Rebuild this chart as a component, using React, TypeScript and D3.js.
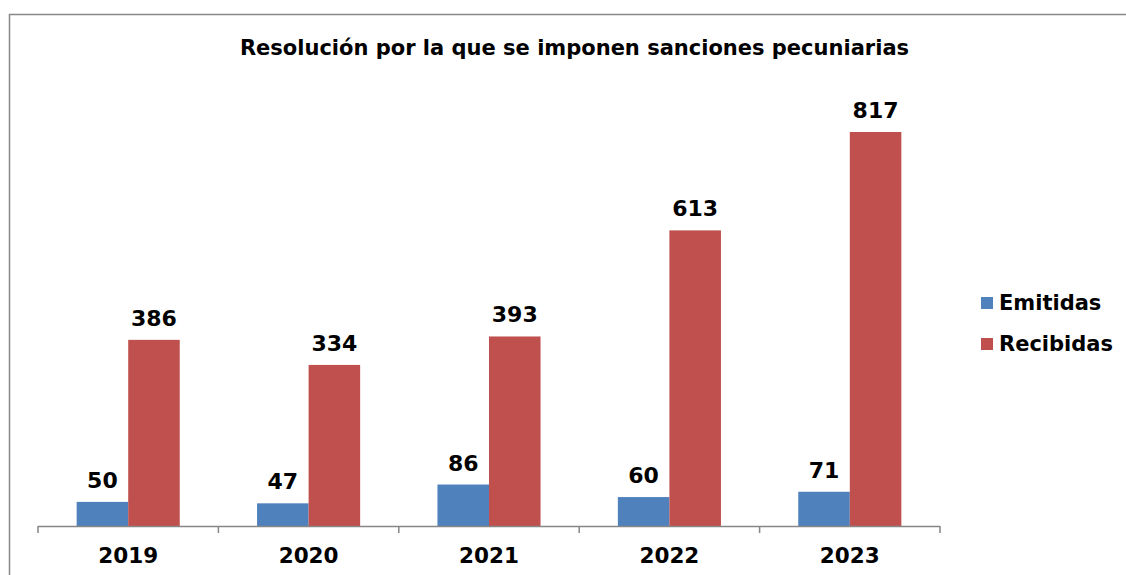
import React from 'react';
import * as d3 from 'd3';

const years = ['2019', '2020', '2021', '2022', '2023'];
const emitidas = [50, 47, 86, 60, 71];
const recibidas = [386, 334, 393, 613, 817];
const seriesNames = ['Emitidas', 'Recibidas'];
const colors = ['#4F81BD', '#C0504D'];

const W = 1126;
const H = 575;
const font = 'Verdana, "DejaVu Sans", sans-serif';

export default function App() {
  const x = d3.scaleBand().domain(years).range([38, 940]).paddingInner(0).paddingOuter(0);
  const inner = d3.scaleBand().domain(seriesNames).range([0, x.bandwidth()]).paddingOuter(0.75).paddingInner(0);
  const y = d3.scaleLinear().domain([0, 817]).range([526, 132]);
  const series = [emitidas, recibidas];

  return (
    <svg
      width={W}
      height={H}
      style={{ position: 'absolute', left: 0, top: 0, background: '#fff' }}
      fontFamily={font}
    >
      <rect x={9.5} y={14.5} width={W + 20} height={H + 20} fill="#fff" stroke="#888" strokeWidth={1.5} />
      <text x={574.5} y={55} textAnchor="middle" fontWeight="bold" fontSize={21}>
        Resolución por la que se imponen sanciones pecuniarias
      </text>
      {years.map((yr, i) => (
        <g key={yr} transform={`translate(${x(yr)},0)`}>
          {series.map((s, j) => {
            const bx = inner(seriesNames[j])!;
            const bw = inner.bandwidth();
            return (
              <g key={j}>
                <rect x={bx} y={y(s[i])} width={bw} height={y(0) - y(s[i])} fill={colors[j]} />
                <text
                  x={bx + bw / 2}
                  y={y(s[i]) - 14}
                  textAnchor="middle"
                  fontWeight="bold"
                  fontSize={22}
                >
                  {s[i]}
                </text>
              </g>
            );
          })}
          <text x={x.bandwidth() / 2} y={563} textAnchor="middle" fontWeight="bold" fontSize={21.5}>
            {yr}
          </text>
        </g>
      ))}
      <line x1={38} x2={940} y1={526.5} y2={526.5} stroke="#868686" strokeWidth={1.5} />
      {[...years.map((yr) => x(yr)!), 940].map((t, i) => (
        <line key={i} x1={t} x2={t} y1={526} y2={533} stroke="#868686" strokeWidth={1.5} />
      ))}
      {seriesNames.map((n, j) => (
        <g key={n} transform={`translate(981,${297 + j * 41})`}>
          <rect width={12} height={12} fill={colors[j]} />
          <text x={18} y={13} fontWeight="bold" fontSize={21}>
            {n}
          </text>
        </g>
      ))}
    </svg>
  );
}
